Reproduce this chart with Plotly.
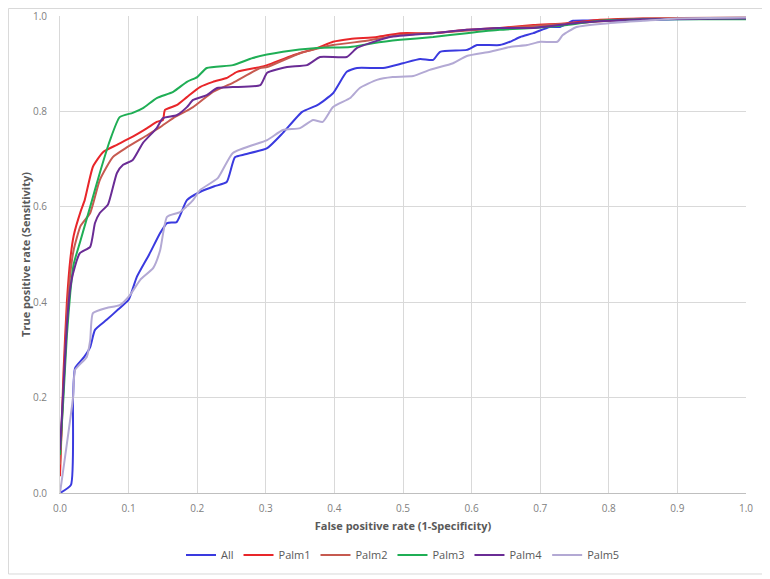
import plotly.graph_objects as go

# ---- data ----
all_x = [0, 0.016, 0.019, 0.022, 0.035, 0.044, 0.051, 0.068, 0.085, 0.1, 0.112, 0.13, 0.146, 0.156, 0.17, 0.185,
         0.204, 0.225, 0.243, 0.255, 0.27, 0.302, 0.325, 0.353, 0.375, 0.398, 0.418, 0.433, 0.471, 0.5, 0.525,
         0.544, 0.554, 0.593, 0.608, 0.641, 0.656, 0.671, 0.69, 0.714, 0.729, 0.748, 0.8, 0.9, 1.0]
all_y = [0, 0.017, 0.2, 0.262, 0.285, 0.306, 0.342, 0.363, 0.385, 0.405, 0.453, 0.5, 0.545, 0.566, 0.568, 0.614,
         0.631, 0.643, 0.652, 0.704, 0.71, 0.723, 0.755, 0.799, 0.813, 0.838, 0.883, 0.891, 0.891, 0.901, 0.91,
         0.908, 0.925, 0.929, 0.939, 0.939, 0.946, 0.956, 0.964, 0.977, 0.977, 0.99, 0.99, 0.993, 0.995]

palm1_x = [0, 0.005, 0.01, 0.015, 0.02, 0.03, 0.036, 0.048, 0.063, 0.083, 0.106, 0.127, 0.141, 0.15, 0.153, 0.17,
           0.185, 0.204, 0.223, 0.243, 0.258, 0.292, 0.302, 0.34, 0.375, 0.398, 0.423, 0.462, 0.496, 0.544, 0.593,
           0.641, 0.69, 0.739, 0.787, 0.85, 1.0]
palm1_y = [0.035, 0.25, 0.4, 0.49, 0.54, 0.59, 0.614, 0.684, 0.715, 0.73, 0.747, 0.765, 0.778, 0.782, 0.803, 0.813,
           0.83, 0.851, 0.862, 0.87, 0.883, 0.893, 0.897, 0.918, 0.933, 0.946, 0.952, 0.956, 0.964, 0.964, 0.971,
           0.975, 0.981, 0.985, 0.992, 0.995, 0.995]

palm2_x = [0, 0.005, 0.01, 0.015, 0.02, 0.03, 0.044, 0.058, 0.077, 0.098, 0.127, 0.146, 0.165, 0.194, 0.223, 0.252,
           0.292, 0.302, 0.35, 0.398, 0.447, 0.496, 0.55, 0.6, 0.65, 0.7, 0.75, 0.8, 0.85, 1.0]
palm2_y = [0.06, 0.22, 0.37, 0.46, 0.51, 0.56, 0.587, 0.656, 0.704, 0.725, 0.75, 0.767, 0.786, 0.809, 0.841, 0.86,
           0.891, 0.893, 0.922, 0.939, 0.948, 0.96, 0.965, 0.97, 0.975, 0.98, 0.985, 0.99, 0.995, 0.997]

palm3_x = [0, 0.005, 0.01, 0.015, 0.02, 0.03, 0.044, 0.058, 0.073, 0.087, 0.106, 0.121, 0.141, 0.165, 0.185, 0.2,
           0.214, 0.252, 0.281, 0.325, 0.375, 0.423, 0.456, 0.496, 0.544, 0.593, 0.641, 0.69, 0.739, 0.787, 0.85, 1.0]
palm3_y = [0.08, 0.2, 0.33, 0.42, 0.48, 0.53, 0.6, 0.671, 0.74, 0.788, 0.797, 0.807, 0.828, 0.841, 0.862, 0.872,
           0.891, 0.897, 0.912, 0.925, 0.933, 0.935, 0.943, 0.95, 0.956, 0.964, 0.971, 0.975, 0.981, 0.99, 0.993, 0.993]

palm4_x = [0, 0.005, 0.01, 0.015, 0.019, 0.029, 0.044, 0.051, 0.058, 0.07, 0.083, 0.092, 0.106, 0.121, 0.141, 0.15,
           0.17, 0.185, 0.194, 0.214, 0.229, 0.252, 0.292, 0.302, 0.331, 0.36, 0.379, 0.418, 0.433, 0.462, 0.481,
           0.544, 0.593, 0.641, 0.69, 0.75, 0.8, 0.85, 1.0]
palm4_y = [0.09, 0.22, 0.35, 0.43, 0.46, 0.503, 0.516, 0.566, 0.587, 0.605, 0.671, 0.688, 0.698, 0.734, 0.765, 0.786,
           0.792, 0.809, 0.824, 0.834, 0.849, 0.851, 0.855, 0.881, 0.893, 0.897, 0.914, 0.914, 0.933, 0.948, 0.956,
           0.964, 0.971, 0.975, 0.975, 0.985, 0.99, 0.993, 0.995]

palm5_x = [0, 0.019, 0.022, 0.039, 0.044, 0.048, 0.068, 0.087, 0.102, 0.117, 0.136, 0.146, 0.156, 0.175, 0.194,
           0.204, 0.23, 0.252, 0.302, 0.325, 0.35, 0.369, 0.383, 0.398, 0.423, 0.437, 0.462, 0.485, 0.515, 0.539,
           0.573, 0.593, 0.627, 0.656, 0.681, 0.7, 0.725, 0.733, 0.753, 0.8, 0.85, 0.9, 1.0]
palm5_y = [0, 0.2, 0.258, 0.285, 0.32, 0.377, 0.388, 0.394, 0.415, 0.447, 0.472, 0.509, 0.579, 0.589, 0.614,
           0.635, 0.66, 0.713, 0.74, 0.761, 0.765, 0.782, 0.778, 0.809, 0.828, 0.849, 0.866, 0.872, 0.874, 0.887,
           0.901, 0.916, 0.925, 0.935, 0.939, 0.946, 0.946, 0.96, 0.977, 0.985, 0.99, 0.995, 0.997]

series_names = ["All", "Palm1", "Palm2", "Palm3", "Palm4", "Palm5"]
series_x = [all_x, palm1_x, palm2_x, palm3_x, palm4_x, palm5_x]
series_y = [all_y, palm1_y, palm2_y, palm3_y, palm4_y, palm5_y]
colors = ["#3A3ADF", "#E8262A", "#C65A50", "#1FAE55", "#6A2C95", "#B3A9D4"]

x_ticks = [round(i * 0.1, 1) for i in range(11)]
y_ticks = [round(i * 0.2, 1) for i in range(6)]

fig = go.Figure()
for name, xs, ys, c in zip(series_names, series_x, series_y, colors):
    fig.add_trace(go.Scatter(x=xs, y=ys, name=name, mode="lines",
                             line=dict(color=c, width=2, shape="spline", smoothing=0.5)))

axis_font = dict(family="Open Sans, sans-serif", size=10, color="#808080")
title_font = dict(family="Open Sans, sans-serif", size=11, color="#595959")

# page body has an 8px default margin: figure is sized/offset to compensate
fig.update_layout(
    width=762, height=571,
    margin=dict(l=52, r=24, t=8, b=86, autoexpand=False),
    paper_bgcolor="white", plot_bgcolor="white",
    showlegend=True,
    legend=dict(orientation="h", x=0.5, xanchor="center", y=-0.13, yanchor="middle",
                font=dict(family="Open Sans, sans-serif", size=11, color="#595959"),
                itemwidth=30, tracegroupgap=0),
    xaxis=dict(range=[0, 1.0], tickvals=x_ticks, ticktext=[f"{v:.1f}" for v in x_ticks],
               showgrid=True, gridcolor="#D9D9D9", gridwidth=1, zeroline=False,
               showline=True, linecolor="#BFBFBF", linewidth=1,
               tickfont=axis_font, ticks="", ticklabelstandoff=6,
               title=dict(text="<b>False positive rate (1-Specificity)</b>", font=title_font, standoff=8)),
    yaxis=dict(range=[0, 1.0], tickvals=y_ticks, ticktext=[f"{v:.1f}" for v in y_ticks],
               showgrid=True, gridcolor="#D9D9D9", gridwidth=1, zeroline=False,
               showline=True, linecolor="#D9D9D9", linewidth=1,
               tickfont=axis_font, ticks="", ticklabelstandoff=10,
               title=dict(text="<b>True positive rate (Sensitivity)</b>", font=title_font, standoff=0)),
    shapes=[dict(type="rect", xref="paper", yref="paper",
                 x0=-0.0751, x1=1.0277, y0=-0.1698, y1=1.0157,
                 line=dict(color="#D9D9D9", width=1), fillcolor="rgba(0,0,0,0)", layer="below")],
)

fig.write_html("out.html")
